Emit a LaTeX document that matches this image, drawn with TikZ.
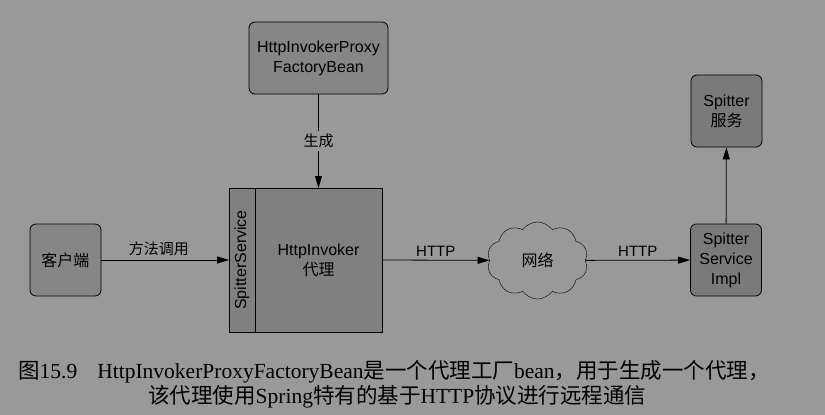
\documentclass[tikz,border=0pt]{standalone}
\usepackage{fontspec}
\setmainfont{Liberation Sans}
\newfontfamily\cjk{Noto Sans CJK SC}
\newfontfamily\capfont{Liberation Serif}
\usetikzlibrary{shapes.symbols, arrows.meta}
\definecolor{bggray}{RGB}{153,153,153}
\definecolor{boxgray}{RGB}{134,134,134}
\definecolor{proxygray}{RGB}{128,128,128}
\definecolor{implgray}{RGB}{122,122,122}
\newcommand{\zh}[1]{{\cjk #1}}
\tikzstyle{box} = [rectangle, rounded corners=6pt, minimum width=71pt, minimum height=72pt, align=center, draw=black, line width=0.8pt, fill=boxgray, font=\fontsize{16}{20}\selectfont]
\tikzstyle{proxybox} = [rectangle, minimum height=144pt, inner sep=0pt, outer sep=0pt, align=center, draw=black, line width=0.8pt, fill=proxygray, font=\fontsize{16}{20}\selectfont]
\tikzstyle{net} = [cloud, cloud puffs=10, cloud puff arc=110, aspect=1.3, minimum width=101pt, minimum height=77pt, draw=black, fill=bggray, font=\fontsize{16}{20}\selectfont]
\tikzstyle{line} = [-{Triangle[length=12pt,width=7pt]}, line width=0.8pt]
\tikzstyle{lbl} = [font=\fontsize{15}{18}\selectfont]
\tikzstyle{caption} = [anchor=west, inner sep=0pt, font=\capfont\fontsize{21.5}{24}\selectfont]

\begin{document}
\begin{tikzpicture}[x=1pt, y=-1pt]
            \fill [bggray] (0,0) rectangle (825,415);
            \useasboundingbox (0,0) rectangle (825,415);
            \node (factory) [box, minimum width=139pt] at (318.5,58) {HttpInvokerProxy\\FactoryBean};
            \node (proxy) [proxybox, minimum width=127pt] at (318.5,260) {HttpInvoker\\\zh{代理}};
            \node (iface) [proxybox, minimum width=26pt, anchor=east] at (proxy.west) {\rotatebox{90}{SpitterService}};
            \node (client) [box] at (65.5,260) {\zh{客户端}};
            \node (network) [net] at (537.5,260.5) {\zh{网络}};
            \node (impl) [box, fill=implgray] at (726,260) {Spitter\\Service\\Impl};
            \node (service) [box, fill=implgray] at (726.5,111) {Spitter\\\zh{服务}};
            \draw [line] (factory) -- node[lbl, fill=bggray, inner sep=3pt] {\zh{生成}} (proxy);
            \draw [line] (client) -- node[lbl, above, pos=0.45] {\zh{方法调用}} (iface);
            \draw [line] (proxy.east |- client) -- node[lbl, above] {HTTP} (network);
            \draw [line] (network) -- node[lbl, above] {HTTP} (impl);
            \draw [line] (impl) -- (service);
            \node (caption1) [caption] at (18,372) {\zh{图}15.9\hspace{20pt}HttpInvokerProxyFactoryBean\zh{是一个代理工厂}bean\zh{，用于生成一个代理，}};
            \node (caption2) [caption] at (148,397) {\zh{该代理使用}Spring\zh{特有的基于}HTTP\zh{协议进行远程通信}};
\end{tikzpicture}
\end{document}
